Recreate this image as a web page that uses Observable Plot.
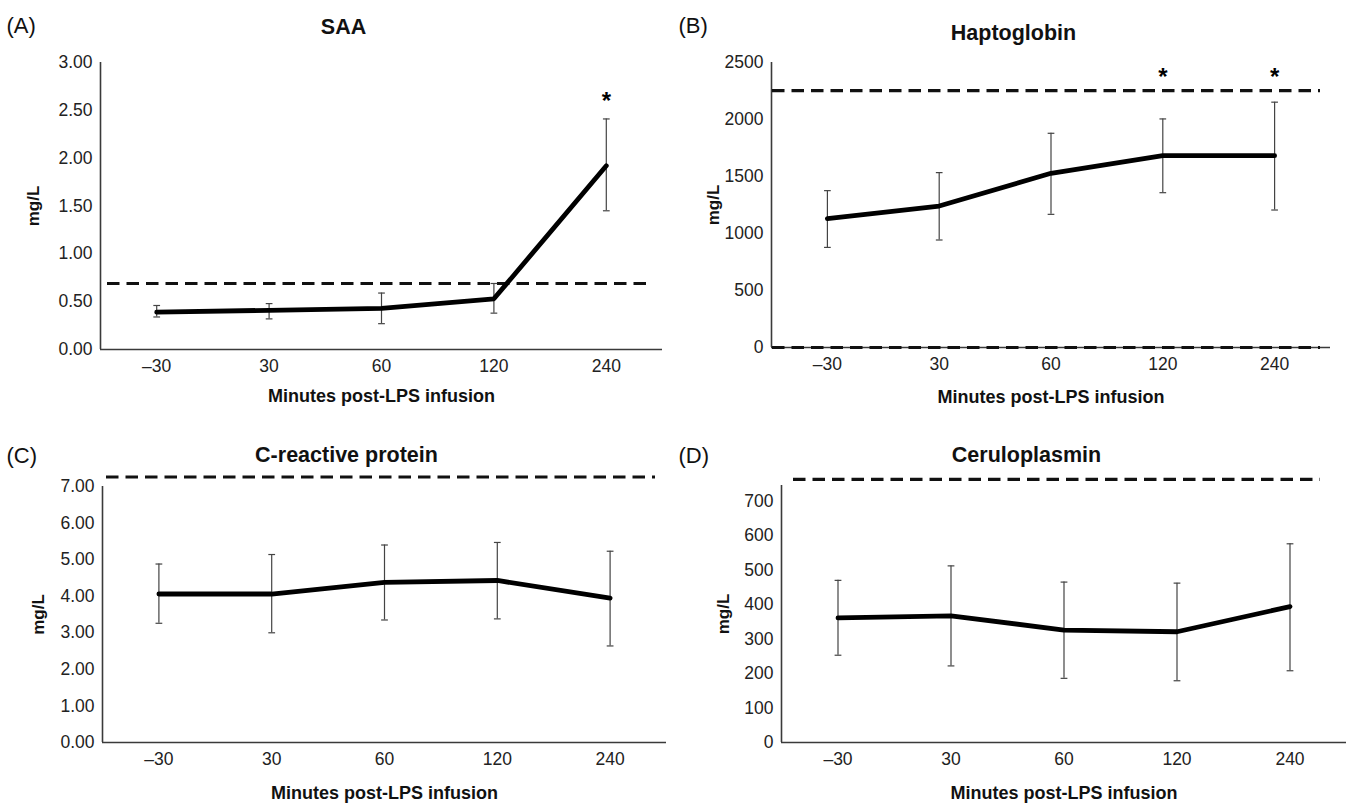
<!DOCTYPE html>
<html>
<head>
<meta charset="utf-8">
<script src="https://cdn.jsdelivr.net/npm/d3@7"></script>
<script src="https://cdn.jsdelivr.net/npm/@observablehq/plot@0.6"></script>
<style>
  html, body { margin: 0; padding: 0; background: #fff; }
  #root { position: relative; width: 1351px; height: 805px; background: #fff; overflow: hidden; }
  .panel { position: absolute; }
  .panel svg { overflow: visible; background: transparent !important; }
</style>
</head>
<body>
<div id="root"></div>
<script>
// ---- shared categories ----
const times = ["\u201330", "30", "60", "120", "240"];
const xTitle = "Minutes post-LPS infusion";
const yTitle = "mg/L";

// ---- (A) SAA ----
const saaMean = [0.39, 0.41, 0.43, 0.53, 1.92];
const saaLow  = [0.34, 0.32, 0.27, 0.38, 1.45];
const saaHigh = [0.46, 0.48, 0.59, 0.69, 2.41];
const saaRef  = [0.69];
const saaStarTimes = ["240"];
const saaStarY = 2.66;
const saaTicks = [0, 0.5, 1, 1.5, 2, 2.5, 3];

// ---- (B) Haptoglobin ----
const hapMean = [1130, 1241, 1528, 1683, 1683];
const hapLow  = [878, 943, 1168, 1358, 1206];
const hapHigh = [1376, 1534, 1879, 2005, 2152];
const hapRef  = [2254, 0];
const hapStarTimes = ["120", "240"];
const hapStarY = 2421;
const hapTicks = [0, 500, 1000, 1500, 2000, 2500];

// ---- (C) C-reactive protein ----
const crpMean = [4.06, 4.06, 4.38, 4.43, 3.95];
const crpLow  = [3.26, 3.00, 3.35, 3.38, 2.64];
const crpHigh = [4.88, 5.14, 5.40, 5.47, 5.23];
const crpRef  = [7.26];
const crpTicks = [0, 1, 2, 3, 4, 5, 6, 7];

// ---- (D) Ceruloplasmin ----
const cerMean = [361, 367, 326, 321, 394];
const cerLow  = [253, 222, 186, 179, 208];
const cerHigh = [470, 512, 465, 462, 576];
const cerRef  = [763];
const cerTicks = [0, 100, 200, 300, 400, 500, 600, 700];

const FONT = "'Liberation Sans', Arial, Helvetica, sans-serif";

function panel(c) {
  const n = times.length;
  const rows = times.map((t, i) => ({ i, t, mean: c.mean[i], lo: c.low[i], hi: c.high[i] }));
  const stars = (c.starTimes || []).map(t => ({ i: times.indexOf(t), y: c.starY }));
  const cap = 0.03;
  const axisColor = "#3a3a3a";
  return Plot.plot({
    width: c.width,
    height: c.height,
    marginLeft: c.ml, marginRight: c.mr, marginTop: c.mt, marginBottom: c.mb,
    style: { fontFamily: FONT, fontSize: "17.5px", color: "#222", background: "transparent", overflow: "visible" },
    x: { domain: [-0.5, n - 0.5], ticks: d3.range(n), tickFormat: i => times[i], tickSize: 0, tickPadding: 10, label: null },
    y: { domain: c.domain, ticks: c.ticks, tickFormat: c.fmt, tickSize: 0, tickPadding: 8, label: null },
    marks: [
      Plot.ruleY([c.domain[0]], { stroke: axisColor, strokeWidth: 1.6 }),
      Plot.ruleX([-0.5], { stroke: axisColor, strokeWidth: 1.6 }),
      Plot.ruleY(c.refs, { stroke: "#111", strokeWidth: 3.2, strokeDasharray: "12.5,7", insetLeft: c.insL, insetRight: c.insR }),
      Plot.ruleX(rows, { x: "i", y1: "lo", y2: "hi", stroke: "#444", strokeWidth: 1.2 }),
      Plot.link(rows, { x1: d => d.i - cap, x2: d => d.i + cap, y1: "lo", y2: "lo", stroke: "#444", strokeWidth: 1.2 }),
      Plot.link(rows, { x1: d => d.i - cap, x2: d => d.i + cap, y1: "hi", y2: "hi", stroke: "#444", strokeWidth: 1.2 }),
      Plot.line(rows, { x: "i", y: "mean", stroke: "#000", strokeWidth: 4.8, strokeLinejoin: "round", strokeLinecap: "round" }),
      Plot.text(stars, { x: "i", y: "y", text: () => "*", fontSize: 24, fontWeight: "bold", fill: "#000", lineAnchor: "middle", dy: 6 }),
      Plot.text([c.letter], { text: d => d, frameAnchor: "top-left", dx: c.letterDx, dy: c.letterDy, textAnchor: "start", lineAnchor: "middle", fontSize: 22, fill: "#111" }),
      Plot.text([c.title], { text: d => d, frameAnchor: "top-left", dx: c.titleDx, dy: c.titleDy, textAnchor: "middle", lineAnchor: "middle", fontSize: 21.5, fontWeight: "bold", fill: "#111" }),
      Plot.text([yTitle], { text: d => d, frameAnchor: "left", dx: c.yLabDx, rotate: -90, textAnchor: "middle", lineAnchor: "middle", fontSize: 17, fontWeight: "bold", fill: "#111" }),
      Plot.text([xTitle], { text: d => d, frameAnchor: "bottom", dy: c.xLabDy, textAnchor: "middle", lineAnchor: "middle", fontSize: 18, fontWeight: "bold", fill: "#111" })
    ]
  });
}

const fmt2 = d3.format(".2f");
const fmt0 = d3.format("d");

const panels = [
  { left: 0, top: 0, width: 675, height: 402, ml: 100, mr: 13, mt: 62, mb: 53,
    mean: saaMean, low: saaLow, high: saaHigh, refs: saaRef, starTimes: saaStarTimes, starY: saaStarY,
    domain: [0, 3], ticks: saaTicks, fmt: fmt2, insL: 7, insR: 12,
    letter: "(A)", letterDx: -94, letterDy: -37, title: "SAA", titleDx: 243, titleDy: -35,
    yLabDx: -67, xLabDy: 47 },
  { left: 675, top: 0, width: 676, height: 402, ml: 96, mr: 21, mt: 62, mb: 55,
    mean: hapMean, low: hapLow, high: hapHigh, refs: hapRef, starTimes: hapStarTimes, starY: hapStarY,
    domain: [0, 2500], ticks: hapTicks, fmt: fmt0, insL: 1, insR: 10,
    letter: "(B)", letterDx: -93, letterDy: -37, title: "Haptoglobin", titleDx: 242, titleDy: -29,
    yLabDx: -58, xLabDy: 50 },
  { left: 0, top: 402, width: 675, height: 403, ml: 102, mr: 9, mt: 84, mb: 63,
    mean: crpMean, low: crpLow, high: crpHigh, refs: crpRef,
    domain: [0, 7], ticks: crpTicks, fmt: fmt2, insL: 4, insR: 11,
    letter: "(C)", letterDx: -96, letterDy: -31, title: "C-reactive protein", titleDx: 244, titleDy: -31,
    yLabDx: -64, xLabDy: 51 },
  { left: 675, top: 402, width: 676, height: 403, ml: 106, mr: 5, mt: 83, mb: 63,
    mean: cerMean, low: cerLow, high: cerHigh, refs: cerRef,
    domain: [0, 745], ticks: cerTicks, fmt: fmt0, insL: 12, insR: 26,
    letter: "(D)", letterDx: -103, letterDy: -30, title: "Ceruloplasmin", titleDx: 245, titleDy: -30,
    yLabDx: -58, xLabDy: 51 }
];

const root = document.getElementById("root");
for (const p of panels) {
  const div = document.createElement("div");
  div.className = "panel";
  div.style.left = p.left + "px";
  div.style.top = p.top + "px";
  div.appendChild(panel(p));
  root.appendChild(div);
}
</script>
</body>
</html>
